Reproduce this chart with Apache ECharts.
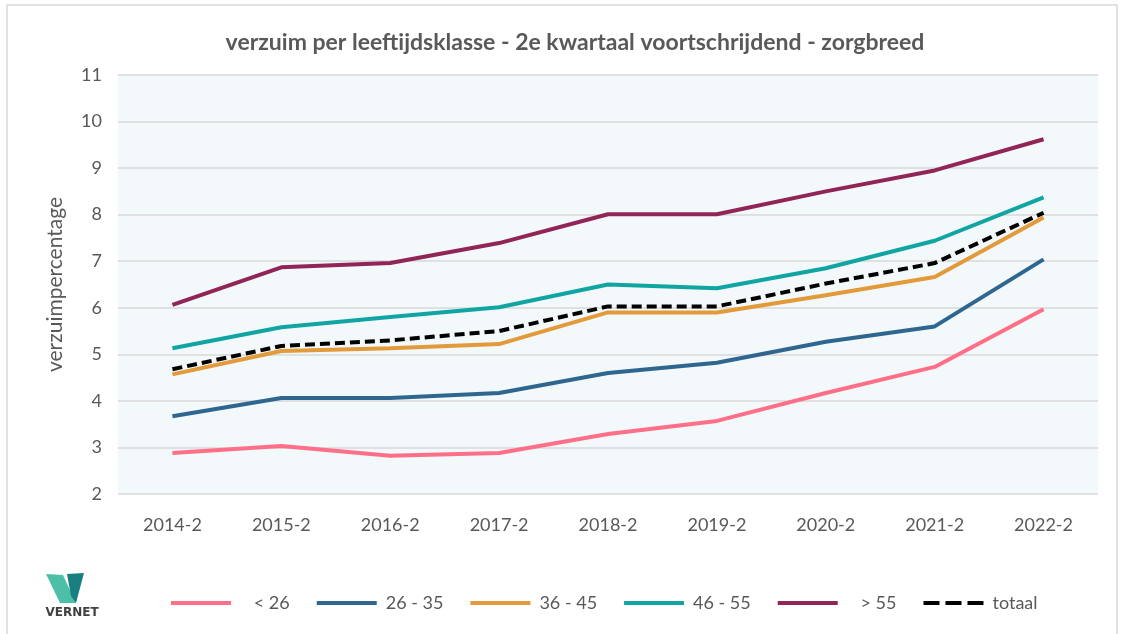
<!DOCTYPE html>
<html>
<head>
<meta charset="utf-8">
<title>verzuim per leeftijdsklasse</title>
<script src="https://cdn.jsdelivr.net/npm/echarts@6/dist/echarts.min.js"></script>
<style>
  html, body { margin: 0; padding: 0; background: #fff; }
  #chart { width: 1126px; height: 634px; }
</style>
</head>
<body>
<div id="chart"></div>
<script>
// data
var categories = ["2014-2", "2015-2", "2016-2", "2017-2", "2018-2", "2019-2", "2020-2", "2021-2", "2022-2"];
var tot26 = [2.88, 3.03, 2.82, 2.88, 3.29, 3.57, 4.17, 4.73, 5.97];
var van26tot35 = [3.67, 4.06, 4.06, 4.17, 4.60, 4.82, 5.27, 5.60, 7.04];
var van36tot45 = [4.57, 5.07, 5.13, 5.22, 5.90, 5.90, 6.27, 6.66, 7.94];
var van46tot55 = [5.13, 5.58, 5.80, 6.01, 6.50, 6.42, 6.85, 7.44, 8.37];
var boven55 = [6.06, 6.87, 6.96, 7.39, 8.01, 8.01, 8.50, 8.95, 9.62];
var totaal = [4.68, 5.18, 5.30, 5.50, 6.03, 6.03, 6.52, 6.96, 8.04];

var font = "Lato, 'Open Sans', sans-serif";
var grey = "#595959";

// legenda-iconen: volle lijn en streepjeslijn
var iconVol = "path://M0,0h60v4h-60z";
var iconStreep = "path://M0,0h16v4h-16z M22,0h16v4h-16z M44,0h16v4h-16z";

var chart = echarts.init(document.getElementById("chart"));

function lijn(naam, data, kleur, type) {
  return {
    name: naam,
    type: "line",
    data: data,
    symbol: "none",
    z: type ? 5 : 3,
    lineStyle: { color: kleur, width: 4, type: type || "solid" },
    itemStyle: { color: kleur }
  };
}

chart.setOption({
  backgroundColor: "#fff",
  animation: false,
  title: {
    text: "verzuim per leeftijdsklasse - 2e kwartaal voortschrijdend - zorgbreed",
    left: 570,
    textAlign: "center",
    top: 26,
    textStyle: { fontFamily: font, fontSize: 23, fontWeight: "bold", color: grey }
  },
  grid: {
    left: 118,
    right: 28,
    top: 75,
    bottom: 140,
    show: true,
    backgroundColor: "#f3f8fb",
    borderWidth: 0
  },
  legend: {
    bottom: 17,
    left: 166,
    itemWidth: 60,
    itemHeight: 4,
    itemGap: 27,
    formatter: function (n) {
      // in het origineel staat er extra ruimte voor "< 26" en "> 55"
      return (n === "< 26" || n === "> 55") ? "   " + n : n;
    },
    textStyle: { fontFamily: font, fontSize: 18, color: grey, padding: [0, 0, 0, 4] },
    data: [
      { name: "< 26", icon: iconVol },
      { name: "26 - 35", icon: iconVol },
      { name: "36 - 45", icon: iconVol },
      { name: "46 - 55", icon: iconVol },
      { name: "> 55", icon: iconVol },
      { name: "totaal", icon: iconStreep }
    ]
  },
  xAxis: {
    type: "category",
    data: categories,
    boundaryGap: true,
    axisLine: { show: false },
    axisTick: { show: false },
    axisLabel: { fontFamily: font, fontSize: 18, color: grey, margin: 22 }
  },
  yAxis: {
    type: "value",
    min: 2,
    max: 11,
    interval: 1,
    name: "verzuimpercentage",
    nameLocation: "middle",
    nameGap: 52,
    nameTextStyle: { fontFamily: font, fontSize: 21, color: grey },
    axisLine: { show: false },
    axisTick: { show: false },
    axisLabel: { fontFamily: font, fontSize: 18, color: grey, margin: 16 },
    splitLine: { lineStyle: { color: "#d9d9d9", width: 1.5 } }
  },
  series: [
    lijn("< 26", tot26, "#ff6f88"),
    lijn("26 - 35", van26tot35, "#2f6690"),
    lijn("36 - 45", van36tot45, "#e29a3a"),
    lijn("46 - 55", van46tot55, "#10a5a3"),
    lijn("> 55", boven55, "#922557"),
    lijn("totaal", totaal, "#000000", [10, 5])
  ],
  graphic: [
    {
      type: "rect",
      shape: { x: 7, y: 5, width: 1110, height: 640 },
      style: { fill: "none", stroke: "#d9d9d9", lineWidth: 1.5 },
      silent: true
    },
    {
      // logo, licht deel
      type: "polygon",
      shape: { points: [[46, 574], [63, 575], [76, 603], [60, 603]] },
      style: { fill: "#4dbfa8" }
    },
    {
      // logo, donker deel
      type: "polygon",
      shape: { points: [[67, 574], [84, 573], [76, 603], [71, 596]] },
      style: { fill: "#1a7f80" }
    },
    {
      type: "text",
      x: 72,
      y: 613,
      style: {
        text: "VERNET",
        align: "center",
        verticalAlign: "middle",
        fontFamily: "'DejaVu Sans', sans-serif",
        fontSize: 12,
        fontWeight: "bold",
        fill: "#404040"
      }
    }
  ]
});
</script>
</body>
</html>
